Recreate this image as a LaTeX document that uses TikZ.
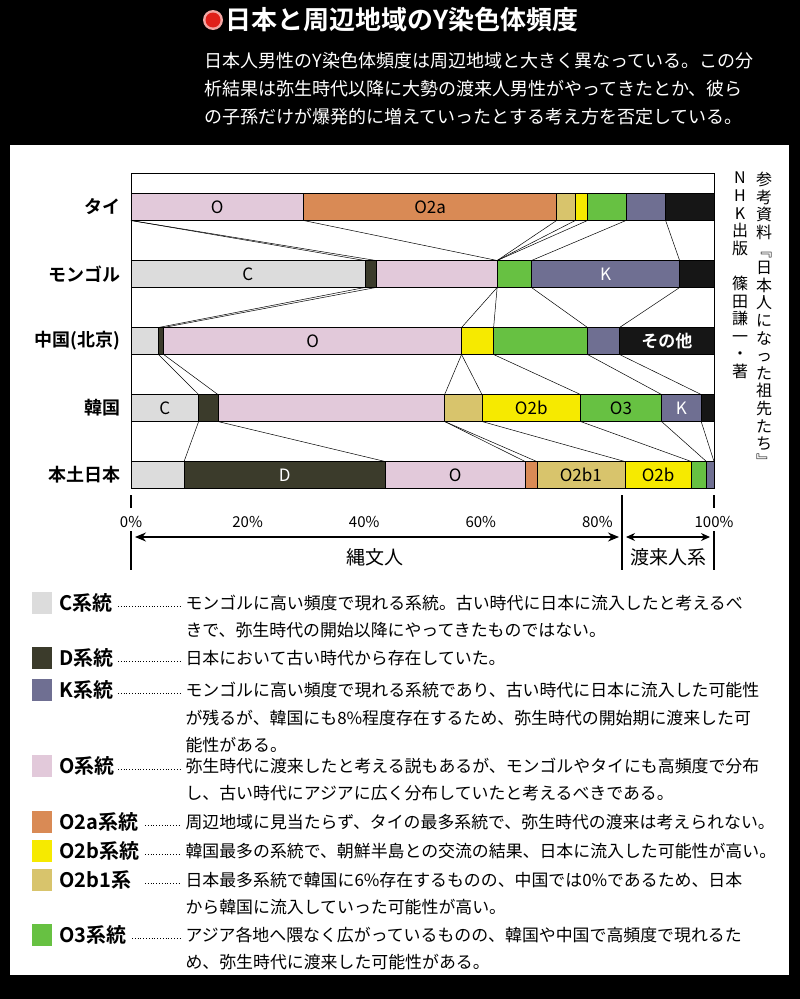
\documentclass[tikz,border=0pt]{standalone}
\usepackage{fontspec}
\setmainfont{Noto Sans CJK JP}[BoldFont=Noto Sans CJK JP Bold]
\usetikzlibrary{arrows.meta}
\definecolor{cC}{HTML}{DCDCDC}
\definecolor{cD}{HTML}{3B3B2B}
\definecolor{cO}{HTML}{E2C9DA}
\definecolor{cOa}{HTML}{D98A55}
\definecolor{cOb}{HTML}{F6EA00}
\definecolor{cObi}{HTML}{D8C46C}
\definecolor{cOc}{HTML}{67C142}
\definecolor{cK}{HTML}{6F6F92}
\definecolor{cX}{HTML}{161616}
\definecolor{titlered}{HTML}{E0201A}
\newcommand{\px}[1]{131+5.83*#1}
\tikzset{
  seg/.style={fill=#1, draw=black, line width=0.5pt},
  seglab/.style={font=\fontsize{17}{17}\selectfont},
  rowlab/.style={anchor=east, font=\bfseries\fontsize{18}{18}\selectfont},
  leglab/.style={anchor=west, font=\bfseries\fontsize{20}{20}\selectfont},
  legtxt/.style={anchor=west, font=\fontsize{16.9}{16.9}\selectfont},
  headtxt/.style={anchor=west, text=white, font=\fontsize{18}{18}\selectfont},
  vtext/.style={anchor=north, align=center, font=\fontsize{16}{17.6}\selectfont, inner sep=0pt}
}
\begin{document}
\begin{tikzpicture}[x=1pt,y=-1pt]
\useasboundingbox (0,0) rectangle (800,999);
\fill[black] (0,0) rectangle (800,999);
\fill[white] (10,145) rectangle (789,975);

% header
\fill[titlered!40] (213,20) circle (10);
\fill[titlered] (213,20) circle (7.5);
\node[anchor=west, text=white, font=\bfseries\fontsize{26}{26}\selectfont] (title) at (222,20) {日本と周辺地域のY染色体頻度};
\node[headtxt] (h1) at (201,61) {日本人男性のY染色体頻度は周辺地域と大きく異なっている。この分};
\node[headtxt] (h2) at (201,89) {析結果は弥生時代以降に大勢の渡来人男性がやってきたとか、彼ら};
\node[headtxt] (h3) at (201,117) {の子孫だけが爆発的に増えていったとする考え方を否定している。};

% chart frame
\draw[line width=1pt] (\px{0},173) rectangle (\px{100},488);

% bars
\foreach \y/\segs in {
  207/{0/29.6/cO/O/black, 29.6/73.0/cOa/O2a/black, 73.0/76.2/cObi//black, 76.2/78.3/cOb//black, 78.3/84.9/cOc//black, 84.9/91.7/cK//black, 91.7/100/cX//black},
  274/{0/40.1/cC/C/black, 40.1/42.0/cD//black, 42.0/62.8/cO//black, 62.8/68.7/cOc//black, 68.7/94.1/cK/K/white, 94.1/100/cX//black},
  341/{0/4.7/cC//black, 4.7/5.6/cD//black, 5.6/56.7/cO/O/black, 56.7/62.2/cOb//black, 62.2/78.3/cOc//black, 78.3/83.8/cK//black, 83.8/100/cX/\bfseries その他/white},
  408/{0/11.6/cC/C/black, 11.6/14.9/cD//black, 14.9/53.8/cO//black, 53.8/60.2/cObi//black, 60.2/77.1/cOb/O2b/black, 77.1/91.0/cOc/O3/black, 91.0/97.8/cK/K/white, 97.8/100/cX//black},
  475/{0/9.1/cC//black, 9.1/43.6/cD/D/white, 43.6/67.6/cO/O/black, 67.6/69.6/cOa//black, 69.6/84.7/cObi/O2b1/black, 84.7/96.1/cOb/O2b/black, 96.1/98.7/cOc//black, 98.7/100/cK//black}}
{
  \foreach \a/\b/\c/\t/\tc in \segs {
    \draw[seg=\c] (\px{\a},\y-13.5) rectangle (\px{\b},\y+13.5);
    \node[seglab, text=\tc] at ({(\px{\a}+\px{\b})/2},\y) {\t};
  }
  \draw[line width=1.6pt] (\px{0},\y-13.5) -- (\px{100},\y-13.5) (\px{0},\y+13.5) -- (\px{100},\y+13.5);
}

% connectors between rows (boundaries after C, D, O, O2a, O2b1, O2b, O3, K)
\foreach \ya/\yb/\pairs in {
  220.5/260.5/{0/40.1, 0/42.0, 29.6/62.8, 73.0/62.8, 76.2/62.8, 78.3/62.8, 84.9/68.7, 91.7/94.1},
  287.5/327.5/{40.1/4.7, 42.0/5.6, 62.8/56.7, 62.8/62.2, 68.7/78.3, 94.1/83.8},
  354.5/394.5/{4.7/11.6, 5.6/14.9, 56.7/53.8, 56.7/60.2, 62.2/77.1, 78.3/91.0, 83.8/97.8},
  421.5/461.5/{11.6/9.1, 14.9/43.6, 53.8/67.6, 53.8/69.6, 60.2/84.7, 77.1/96.1, 91.0/98.7, 97.8/100}}
{
  \foreach \p/\q in \pairs
    \draw[line width=0.5pt] (\px{\p},\ya) -- (\px{\q},\yb);
}

% row labels
\node[rowlab] (tai) at (124,207) {タイ};
\node[rowlab] (mon) at (124,274) {モンゴル};
\node[rowlab] (chn) at (124,341) {中国(北京)};
\node[rowlab] (kor) at (124,408) {韓国};
\node[rowlab] (jpn) at (124,475) {本土日本};

% source, vertical
\node[vtext] (src1) at (764,172) {参\\考\\資\\料\\﹃\\日\\本\\人\\に\\な\\っ\\た\\祖\\先\\た\\ち\\﹄};
\node[vtext] (src2) at (740,172) {N\\H\\K\\出\\版\\ \\篠\\田\\謙\\一\\・\\著};

% axis
\foreach \p in {0,20,40,60,80,100}
  \node[font=\fontsize{15}{15}\selectfont] at (\px{\p},522) {\p\%};
\draw[line width=1.2pt] (\px{0},495) -- (\px{0},508) (\px{0},531) -- (\px{0},570);
\draw[line width=1.2pt] (\px{100},495) -- (\px{100},508) (\px{100},531) -- (\px{100},570);
\draw[line width=1.2pt] (622,495) -- (622,570);
\coordinate (jl) at (\px{0}+4,537);
\coordinate (jr) at (619,537);
\coordinate (tl) at (626,537);
\coordinate (tr) at (\px{100}-4,537);
\draw[{Stealth[length=11pt,width=9pt]}-{Stealth[length=11pt,width=9pt]}, line width=1.2pt] (jl) -- (jr);
\draw[{Stealth[length=9pt,width=8pt]}-{Stealth[length=9pt,width=8pt]}, line width=1.2pt] (tl) -- (tr);
\node[font=\fontsize{19}{19}\selectfont] (jomon) at (375,557) {縄文人};
\node[font=\fontsize{19}{19}\selectfont] (torai) at (668,557) {渡来人系};

% legend
\foreach \y/\c/\t/\dx in {603/cC/C系統/118, 658/cD/D系統/118, 690/cK/K系統/118, 766/cO/O系統/118, 822/cOa/O2a系統/145, 851/cOb/O2b系統/145, 880/cObi/O2b1系/145, 935/cOc/O3系統/132}
{
  \fill[\c] (32,\y-11) rectangle (52,\y+11);
  \node[leglab] at (56,\y) {\t};
  \draw[dotted, line width=0.8pt] (\dx,\y+3) -- (180,\y+3);
}
\node[legtxt] (lc1) at (182,603) {モンゴルに高い頻度で現れる系統。古い時代に日本に流入したと考えるべ};
\node[legtxt] (lc2) at (182,630) {きで、弥生時代の開始以降にやってきたものではない。};
\node[legtxt] (ld1) at (182,658) {日本において古い時代から存在していた。};
\node[legtxt] (lk1) at (182,690) {モンゴルに高い頻度で現れる系統であり、古い時代に日本に流入した可能性};
\node[legtxt] (lk2) at (182,718) {が残るが、韓国にも8\%程度存在するため、弥生時代の開始期に渡来した可};
\node[legtxt] (lk3) at (182,745) {能性がある。};
\node[legtxt] (lo1) at (182,766) {弥生時代に渡来したと考える説もあるが、モンゴルやタイにも高頻度で分布};
\node[legtxt] (lo2) at (182,793) {し、古い時代にアジアに広く分布していたと考えるべきである。};
\node[legtxt] (loa) at (182,822) {周辺地域に見当たらず、タイの最多系統で、弥生時代の渡来は考えられない。};
\node[legtxt] (lob) at (182,851) {韓国最多の系統で、朝鮮半島との交流の結果、日本に流入した可能性が高い。};
\node[legtxt] (lobi1) at (182,880) {日本最多系統で韓国に6\%存在するものの、中国では0\%であるため、日本};
\node[legtxt] (lobi2) at (182,907) {から韓国に流入していった可能性が高い。};
\node[legtxt] (loc1) at (182,935) {アジア各地へ隈なく広がっているものの、韓国や中国で高頻度で現れるた};
\node[legtxt] (loc2) at (182,962) {め、弥生時代に渡来した可能性がある。};
\end{tikzpicture}
\end{document}
